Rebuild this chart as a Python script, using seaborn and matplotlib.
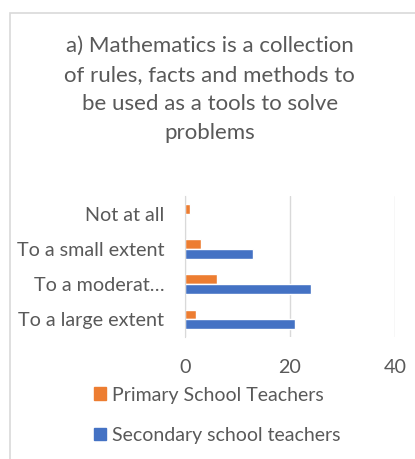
import matplotlib
matplotlib.use("Agg")
import matplotlib.pyplot as plt
import numpy as np
import pandas as pd
import seaborn as sns
from matplotlib.patches import Patch, Rectangle

categories = ["Not at all", "To a small extent", "To a moderat\u2026", "To a large extent"]
primary = [1, 3, 6, 2]
secondary = [0, 13, 24, 21]
series_names = ["Primary School Teachers", "Secondary school teachers"]
colors = ["#ED7D31", "#4472C4"]
title = "a) Mathematics is a collection\nof rules, facts and methods to\nbe used as a tools to solve\nproblems"

df = pd.DataFrame({
    "category": categories * 2,
    "value": primary + secondary,
    "series": [series_names[0]] * len(categories) + [series_names[1]] * len(categories),
})

sns.set_style("white")
plt.rcParams["font.family"] = ["Lato", "DejaVu Sans"]
text_color = "#595959"

fig = plt.figure(figsize=(4.15, 4.59), dpi=100)
ax = fig.add_axes([185 / 415, 1 - 337 / 459, 210 / 415, 141 / 459])

sns.barplot(data=df, y="category", x="value", hue="series", order=categories,
            hue_order=series_names, palette=colors, orient="h", width=0.56,
            ax=ax, legend=False, saturation=1)

ax.set_xlim(0, 40)
ax.set_xticks([0, 20, 40])
ax.grid(axis="x", color="#d9d9d9", linewidth=1)
ax.set_axisbelow(True)
for s in ["top", "right", "bottom"]:
    ax.spines[s].set_visible(False)
ax.spines["left"].set_color("#d9d9d9")
ax.tick_params(axis="both", length=0, labelsize=14.2, colors=text_color)
ax.tick_params(axis="y", pad=15)
ax.tick_params(axis="x", pad=16)
ax.set_xlabel("")
ax.set_ylabel("")

fig.text(0.505, 1 - 36 / 459, title, ha="center", va="top", fontsize=16,
         color=text_color, linespacing=1.57)

handles = [Patch(facecolor=c, edgecolor=c) for c in colors]
fig.legend(handles, series_names, loc="upper left", bbox_to_anchor=(76 / 415, 1 - 369 / 459),
           frameon=False, fontsize=14, labelcolor=text_color, handlelength=0.62,
           handleheight=0.62, handletextpad=0.35, labelspacing=1.2)

fig.patches.append(Rectangle((10 / 415, -0.1), 1.2, 1 - 13 / 459 + 0.1, transform=fig.transFigure,
                             fill=False, edgecolor="#d9d9d9", linewidth=1.2))

fig.savefig("out.png", dpi=100)
